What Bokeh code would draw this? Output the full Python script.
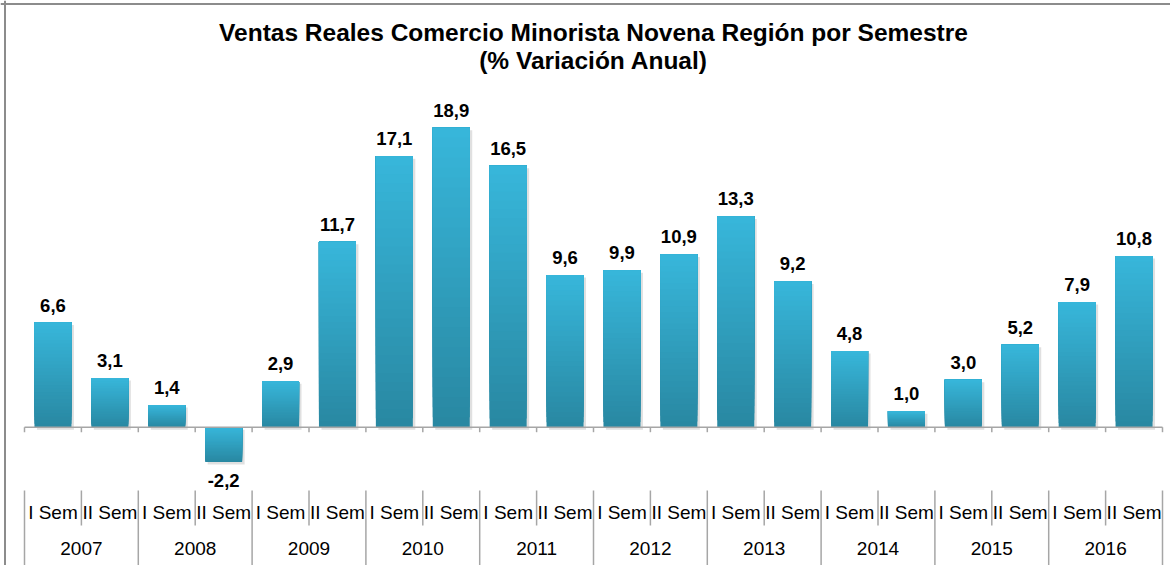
from bokeh.plotting import figure
from bokeh.models import Range1d, Span, Label
from bokeh.core.properties import value
from bokeh.embed import file_html
from bokeh.resources import INLINE

# ---------------- data ----------------
years = ["2007", "2008", "2009", "2010", "2011", "2012", "2013", "2014", "2015", "2016"]
semesters = ["I Sem", "II Sem"]
values = [6.6, 3.1, 1.4, -2.2, 2.9, 11.7, 17.1, 18.9, 16.5, 9.6,
          9.9, 10.9, 13.3, 9.2, 4.8, 1.0, 3.0, 5.2, 7.9, 10.8]
title_lines = ["Ventas Reales Comercio Minorista Novena Región por Semestre",
               "(% Variación Anual)"]

# ---------------- layout ----------------
W, H = 1170, 565
SLOT = 56.9          # px per semester slot
PXU = 15.85          # px per percentage point
ZERO_PX = 426.7      # zero line, px from top of figure
LEFT = 24            # px from figure left to first slot

n = len(values)
x_start = -LEFT / SLOT
x_end = x_start + W / SLOT
y_top = ZERO_PX / PXU
y_bot = y_top - H / PXU


def ry(px):
    """pixel row from top -> data y"""
    return (ZERO_PX - px) / PXU


p = figure(width=W, height=H, output_backend="svg", toolbar_location=None,
           x_range=Range1d(x_start, x_end), y_range=Range1d(y_bot, y_top),
           min_border=0, min_border_left=0, min_border_right=0,
           min_border_top=0, min_border_bottom=0)
p.xaxis.visible = False
p.yaxis.visible = False
p.grid.visible = False
p.outline_line_color = None
p.background_fill_color = "white"
p.border_fill_color = "white"

# frame (left and top)
p.add_layout(Span(location=x_start + 4.5 / SLOT, dimension="height", line_color="#8c8c8c", line_width=2))
p.add_layout(Span(location=ry(3.5), dimension="width", line_color="#8c8c8c", line_width=2))

# ---------------- bars ----------------
BW = 0.65
centers = [i + 0.5 for i in range(n)]
tops = [max(0, v) for v in values]
bots = [min(0, v) for v in values]

# soft shadow
dx, dy = 2.5 / SLOT, 2.5 / PXU
p.quad(left=[c - BW / 2 + dx for c in centers], right=[c + BW / 2 + dx for c in centers],
       top=[t - dy for t in tops], bottom=[b - dy for b in bots],
       fill_color="#000000", fill_alpha=0.12, line_color=None)

# gradient built from stacked slices (bottom dark -> top light)
top_rgb = (0x37, 0xB6, 0xDA)
bot_rgb = (0x29, 0x88, 0xA2)
N = 30
L, R, T, B, C = [], [], [], [], []
for c, t, b in zip(centers, tops, bots):
    for k in range(N):
        f = k / (N - 1)
        col = "#%02x%02x%02x" % tuple(int(round(bot_rgb[j] + (top_rgb[j] - bot_rgb[j]) * f)) for j in range(3))
        L.append(c - BW / 2)
        R.append(c + BW / 2)
        T.append(t)
        B.append(b + (t - b) * k / N)
        C.append(col)
p.quad(left=L, right=R, top=T, bottom=B, fill_color=C, line_color=None)

# zero axis with ticks
p.segment(x0=[0], y0=[0], x1=[n], y1=[0], line_color="#a6a6a6", line_width=1.5)
p.segment(x0=list(range(n + 1)), y0=[0] * (n + 1), x1=list(range(n + 1)),
          y1=[-5 / PXU] * (n + 1), line_color="#a6a6a6", line_width=1.5)

# value labels
labels = [f"{v:.1f}".replace(".", ",") for v in values]
pos_idx = [i for i, v in enumerate(values) if v >= 0]
neg_idx = [i for i, v in enumerate(values) if v < 0]
p.text(x=[centers[i] for i in pos_idx], y=[values[i] + 11 / PXU for i in pos_idx],
       text=[labels[i] for i in pos_idx], text_align="center", text_baseline="bottom",
       text_font=value("Liberation Sans"), text_font_size="18.5px", text_font_style="bold",
       text_color="#000000")
p.text(x=[centers[i] for i in neg_idx], y=[values[i] - 12 / PXU for i in neg_idx],
       text=[labels[i] for i in neg_idx], text_align="center", text_baseline="top",
       text_font=value("Liberation Sans"), text_font_size="18.5px", text_font_style="bold",
       text_color="#000000")

# ---------------- category table ----------------
sem_labels = [semesters[i % 2] for i in range(n)]
p.text(x=centers, y=[ry(512)] * n, text=sem_labels, text_align="center", text_baseline="middle",
       text_font=value("Liberation Sans"), text_font_size="19px", text_color="#000000")
p.text(x=[2 * i + 1 for i in range(len(years))], y=[ry(548)] * len(years), text=years,
       text_align="center", text_baseline="middle",
       text_font=value("Liberation Sans"), text_font_size="19px", text_color="#000000")
inner = [i for i in range(1, n) if i % 2 == 1]
outer = [i for i in range(0, n + 1, 2)]
p.segment(x0=inner, y0=[ry(490)] * len(inner), x1=inner, y1=[ry(525)] * len(inner),
          line_color="#a6a6a6", line_width=1.5)
p.segment(x0=outer, y0=[ry(490)] * len(outer), x1=outer, y1=[y_bot - 1] * len(outer),
          line_color="#a6a6a6", line_width=1.5)

# ---------------- title ----------------
for k, line in enumerate(title_lines):
    p.add_layout(Label(x=593, y=H - [32, 60][k], x_units="screen", y_units="screen",
                       text=line, text_align="center", text_baseline="middle",
                       text_font="Liberation Sans", text_font_size="24.5px",
                       text_font_style="bold", text_color="#000000"))

open("out.html", "w").write(file_html(p, INLINE))
